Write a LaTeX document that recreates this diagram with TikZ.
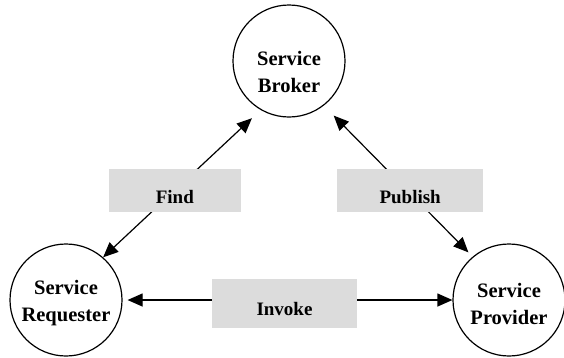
\documentclass[tikz,border=0pt]{standalone}
\usepackage{fontspec}
\setmainfont{Liberation Serif}
\usepackage{tikz}
\usetikzlibrary{arrows.meta}
\definecolor{tagbg}{RGB}{220,220,220}
% two-line role name, lowered inside its circle
\newcommand{\rolename}[3]{\raisebox{#1}[0pt][0pt]{\begin{tabular}{@{}c@{}}#2\\#3\end{tabular}}}

\begin{document}
\begin{tikzpicture}[
        x=1pt, y=-1pt,
        role/.style={draw, circle, line width=1.2pt, minimum size=112pt, inner sep=0pt,
                     font=\fontsize{20.5}{26.5}\selectfont\bfseries},
        tag/.style={fill=tagbg, inner sep=3pt, font=\fontsize{19}{23}\selectfont\bfseries},
        arr/.style={{Triangle[length=15pt,width=13pt]}-{Triangle[length=15pt,width=13pt]}, line width=1.2pt}
    ]
    \useasboundingbox (0,0) rectangle (564,357);

    % Roles
    \node[role] (broker) at (289,61) {\rolename{-18pt}{Service}{Broker}};
    \node[role] (req) at (66,300) {\rolename{-8pt}{Service}{Requester}};
    \node[role] (prov) at (509,300) {\rolename{-11pt}{Service}{Provider}};

    % Arrows with their labels
    \draw[arr, shorten <=12pt] (broker.-120) -- node[tag, minimum width=132pt, text height=32pt, text depth=5pt, pos=0.545] (find) {Find} (req.49);
    \draw[arr, shorten <=14pt, shorten >=6pt] (broker.-52) -- node[tag, minimum width=146pt, text height=32pt, text depth=5pt, pos=0.56, xshift=3pt] (pub) {Publish} (prov.130);
    \draw[arr, shorten <=5pt] (req) -- node[tag, minimum width=145pt, text height=33pt, text depth=10pt, xshift=-3pt, yshift=-3.5pt] (inv) {Invoke} (prov);

\end{tikzpicture}
\end{document}
